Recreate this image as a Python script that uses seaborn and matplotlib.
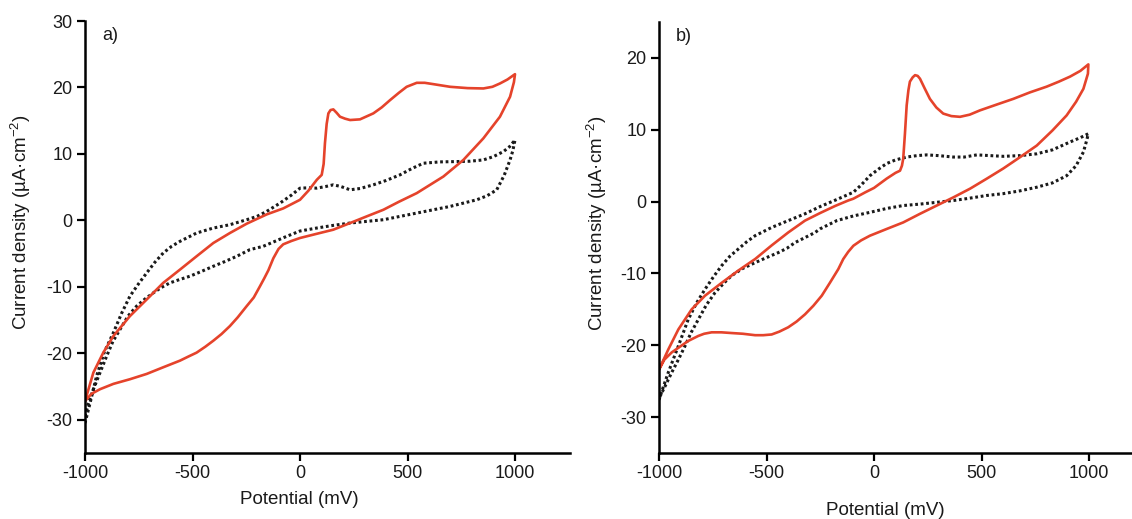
import numpy as np
import pandas as pd
import matplotlib
matplotlib.use("Agg")
import matplotlib.pyplot as plt
import seaborn as sns

# ---- Panel a data (forward scan then reverse scan) ----
a_red_x = [-1000, -961, -915, -868, -791, -713, -636, -558, -481, -403, -326, -248, -155, -78, 0, 40, 78,
           101, 110, 116, 124, 132, 142, 155, 170, 186, 210, 233, 279, 341, 380, 419, 460, 496, 543, 580,
           620, 698, 780, 853, 895, 930, 965, 1000,
           995, 977, 930, 853, 760, 667, 543, 460, 388, 310, 233, 155, 80, 0, -40, -78, -100, -124, -147,
           -166, -186, -215, -248, -290, -326, -365, -403, -440, -481, -520, -558, -636, -713, -791, -868,
           -930, -970, -1000]
a_red_y = [-27.2, -22.9, -19.9, -17.4, -14.4, -11.9, -9.4, -7.4, -5.4, -3.4, -1.9, -0.5, 0.9, 1.8, 3.1, 4.5, 6.1,
           6.85, 8.5, 11.6, 14.5, 16.1, 16.6, 16.7, 16.2, 15.6, 15.3, 15.1, 15.2, 16.1, 17.0, 18.1, 19.2, 20.1, 20.7, 20.7,
           20.5, 20.1, 19.9, 19.85, 20.1, 20.6, 21.2, 22.0,
           20.8, 18.6, 15.6, 12.35, 9.1, 6.6, 4.1, 2.8, 1.6, 0.6, -0.4, -1.4, -2.0, -2.65, -3.1, -3.6, -4.3, -5.7, -7.5,
           -8.7, -9.9, -11.6, -12.9, -14.6, -15.9, -17.1, -18.1, -19.0, -19.9, -20.5, -21.1, -22.1, -23.1, -23.9, -24.6,
           -25.4, -26.1, -27.2]

a_blk_x = [-1000, -975, -946, -910, -868, -830, -791, -750, -713, -675, -636, -597, -558, -481, -403, -326, -248,
           -200, -155, -93, -40, 0, 40, 78, 120, 155, 190, 233, 280, 341, 400, 465, 520, 574, 650, 729, 790, 853,
           900, 946, 975, 1000,
           990, 977, 950, 915, 870, 822, 760, 698, 620, 543, 465, 388, 310, 233, 155, 78, 0, -62, -120, -171, -233,
           -294, -350, -403, -460, -512, -560, -605, -645, -682, -720, -760, -800, -837, -870, -899, -930, -961,
           -985, -1000]
a_blk_y = [-30.5, -27.3, -23.4, -19.8, -16.9, -14.0, -11.4, -9.5, -7.9, -6.3, -4.9, -3.9, -3.15, -1.9, -1.15, -0.65, 0.1,
           0.6, 1.35, 2.6, 3.8, 4.85, 4.9, 4.85, 5.1, 5.35, 5.1, 4.6, 4.8, 5.35, 6.0, 6.85, 7.8, 8.6, 8.8, 8.85, 8.9, 9.1,
           9.6, 10.35, 11.1, 12.1,
           10.5, 9.1, 6.8, 4.6, 3.7, 3.1, 2.6, 2.1, 1.6, 1.1, 0.6, 0.1, -0.15, -0.4, -0.75, -1.15, -1.6, -2.4, -3.2, -3.9, -4.4,
           -5.4, -6.2, -6.9, -7.7, -8.4, -8.9, -9.4, -10.1, -10.9, -11.8, -12.9, -14.4, -16.4, -18.2, -20.4, -22.9, -25.4,
           -27.6, -29.5]

# ---- Panel b data ----
b_red_x = [-1000, -957, -910, -848, -786, -708, -631, -553, -476, -399, -321, -251, -180, -120, -96, -40, 0, 59,
           100, 121, 130, 136, 144, 152, 160, 167, 180, 191, 203, 214, 235, 260, 290, 322, 360, 400, 445, 493,
           570, 648, 725, 803, 860, 912, 960, 997,
           995, 974, 940, 896, 830, 757, 680, 601, 525, 447, 370, 292, 214, 136, 60, -19, -60, -96, -120, -143,
           -166, -205, -243, -282, -321, -360, -399, -440, -476, -515, -553, -610, -662, -710, -755, -790, -817,
           -864, -941, -975, -1000]
b_red_y = [-23.4, -20.6, -17.8, -15.0, -13.1, -11.3, -9.6, -8.0, -6.1, -4.3, -2.65, -1.6, -0.6, 0.15, 0.4, 1.3, 1.9, 3.2,
           4.0, 4.3, 5.0, 6.0, 9.5, 13.4, 15.5, 16.7, 17.3, 17.6, 17.5, 17.1, 15.8, 14.3, 13.1, 12.25, 11.9, 11.8, 12.1, 12.7,
           13.5, 14.3, 15.2, 16.0, 16.7, 17.4, 18.2, 19.1,
           17.8, 15.7, 13.9, 12.0, 9.9, 7.8, 6.2, 4.6, 3.2, 1.8, 0.6, -0.55, -1.7, -2.9, -3.8, -4.75, -5.4, -6.15, -7.0, -8.0,
           -9.4, -11.3, -13.1, -14.5, -15.7, -16.7, -17.5, -18.1, -18.5, -18.6, -18.6, -18.4, -18.3, -18.2, -18.2, -18.4, -18.7,
           -19.4, -21.0, -22.0, -23.4]

b_blk_x = [-1000, -980, -957, -910, -864, -825, -786, -745, -708, -670, -631, -592, -553, -476, -399, -321, -251,
           -180, -96, -60, -19, 20, 59, 100, 152, 200, 245, 300, 369, 420, 478, 540, 601, 680, 757, 830, 912, 960, 997,
           990, 974, 940, 896, 830, 757, 680, 600, 524, 440, 370, 292, 214, 136, 60, -19, -96, -173, -251, -274,
           -320, -367, -405, -445, -500, -553, -610, -662, -700, -740, -780, -817, -850, -879, -910, -941, -970, -1000]
b_blk_y = [-27.6, -25.8, -23.8, -20.1, -16.4, -14.1, -12.2, -10.4, -8.9, -7.6, -6.6, -5.6, -4.75, -3.6, -2.65, -1.7, -0.7,
           0.2, 1.3, 2.3, 3.6, 4.5, 5.3, 5.8, 6.2, 6.4, 6.5, 6.4, 6.2, 6.2, 6.5, 6.4, 6.3, 6.4, 6.65, 7.2, 8.3, 8.9, 9.45,
           8.6, 6.9, 5.0, 3.6, 2.6, 2.0, 1.5, 1.1, 0.85, 0.45, 0.15, -0.1, -0.35, -0.55, -0.95, -1.5, -2.0, -2.65, -3.8, -4.3,
           -5.0, -5.7, -6.5, -7.1, -7.8, -8.5, -9.3, -10.3, -11.4, -12.7, -14.4, -16.4, -18.2, -20.1, -22.0, -23.8, -25.6, -27.4]

xticks = [-1000, -500, 0, 500, 1000]
a_yticks = [-30, -20, -10, 0, 10, 20, 30]
b_yticks = [-30, -20, -10, 0, 10, 20]

RED = "#e5432b"
TXT = "#1a1a1a"

sns.set_style("ticks")
plt.rcParams['font.family'] = ['Liberation Sans', 'DejaVu Sans']

W, H = 1132, 519
fig = plt.figure(figsize=(W / 100, H / 100), dpi=100)
# axes rectangles from pixel geometry
ax_a = fig.add_axes([85 / W, 1 - 453 / H, (515 - 85) / W * 2255 / 2000, (453 - 21) / H])
ax_b = fig.add_axes([659 / W, 1 - 453 / H, (1132 - 659) / W, (453 - 22) / H])


def draw(ax, rx, ry, bx, by, xlim, ylim, yticks, label, ylab_x, ylab_y, xlab_x, xlab_y):
    dfr = pd.DataFrame({"x": rx, "y": ry})
    dfb = pd.DataFrame({"x": bx, "y": by})
    sns.lineplot(data=dfb, x="x", y="y", sort=False, estimator=None, ax=ax,
                 color="#1a1a1a", lw=2.2, linestyle=(0, (0.9, 0.9)))
    sns.lineplot(data=dfr, x="x", y="y", sort=False, estimator=None, ax=ax,
                 color=RED, lw=1.9)
    ax.set_xlim(*xlim)
    ax.set_ylim(*ylim)
    ax.set_xticks(xticks)
    ax.set_yticks(yticks)
    ax.set_xticklabels([str(t) for t in xticks])
    ax.set_yticklabels([str(t) for t in yticks])
    ax.tick_params(axis="both", labelsize=13, width=1.6, length=6, pad=3,
                   color="black", labelcolor=TXT)
    for s in ["left", "bottom"]:
        ax.spines[s].set_linewidth(1.8)
        ax.spines[s].set_color("black")
    for s in ["top", "right"]:
        ax.spines[s].set_visible(False)
    ax.set_xlabel("Potential (mV)", fontsize=13.5, color=TXT)
    ax.set_ylabel("Current density (\u00b5A\u00b7cm$^{\\mathregular{-2}}$)", fontsize=13.5, color=TXT)
    ax.yaxis.set_label_coords(ylab_x, ylab_y)
    ax.xaxis.set_label_coords(xlab_x, xlab_y)
    ax.text(0.035, 0.985, label, transform=ax.transAxes, fontsize=13, va="top", ha="left", color=TXT)


draw(ax_a, a_red_x, a_red_y, a_blk_x, a_blk_y, (-1000, 1255), (-35, 30), a_yticks, "a)",
     -0.108, 0.535, 0.443, -0.088)
draw(ax_b, b_red_x, b_red_y, b_blk_x, b_blk_y, (-1000, 1200), (-35, 25), b_yticks, "b)",
     -0.105, 0.534, 0.478, -0.114)

fig.savefig("out.png", dpi=100)
